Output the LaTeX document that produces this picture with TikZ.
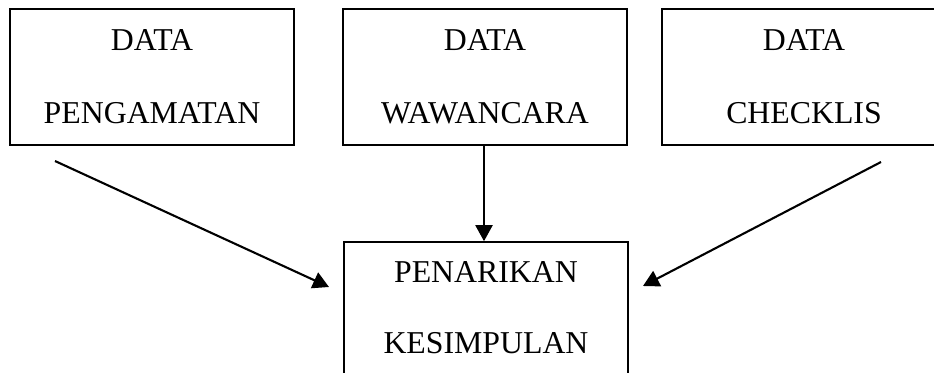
\documentclass[tikz,border=0pt]{standalone}
\usepackage{fontspec}
\setmainfont{Liberation Serif}
\usetikzlibrary{arrows.meta}
\begin{document}
\begin{tikzpicture}[x=1pt,y=-1pt,
  box/.style={draw=black,line width=1.6pt,rectangle,minimum width=284pt,inner sep=0pt},
  lbl/.style={anchor=base,inner sep=0pt,font=\fontsize{31.8}{36}\selectfont},
  conn/.style={line width=2.1pt,-{Triangle[length=16pt,width=17pt]}}]
\useasboundingbox (0,0) rectangle (934,372);
\clip (0,0) rectangle (934,372);
\node[box,minimum height=136pt] (obs) at (152,77) {};
\node[box,minimum height=136pt] (wwc) at (485,77) {};
\node[box,minimum height=136pt] (chk) at (804,77) {};
\node[box,minimum height=136pt] (kes) at (486,310) {};
\node[lbl] (t1a) at (152,50) {DATA};
\node[lbl] (t1b) at (152,123) {PENGAMATAN};
\node[lbl] (t2a) at (485,50) {DATA};
\node[lbl] (t2b) at (485,123) {WAWANCARA};
\node[lbl] (t3a) at (804,50) {DATA};
\node[lbl] (t3b) at (804,123) {CHECKLIS};
\node[lbl] (t4a) at (486,282) {PENARIKAN};
\node[lbl] (t4b) at (486,353) {KESIMPULAN};
\coordinate (ls) at (55,161);
\coordinate (le) at (329,287);
\coordinate (rs) at (881,162);
\coordinate (re) at (643,286);
\draw[conn] (ls) -- (le);
\draw[conn] (rs) -- (re);
\draw[conn] (wwc.south -| 484,0) -- (kes.north -| 484,0);
\end{tikzpicture}
\end{document}
